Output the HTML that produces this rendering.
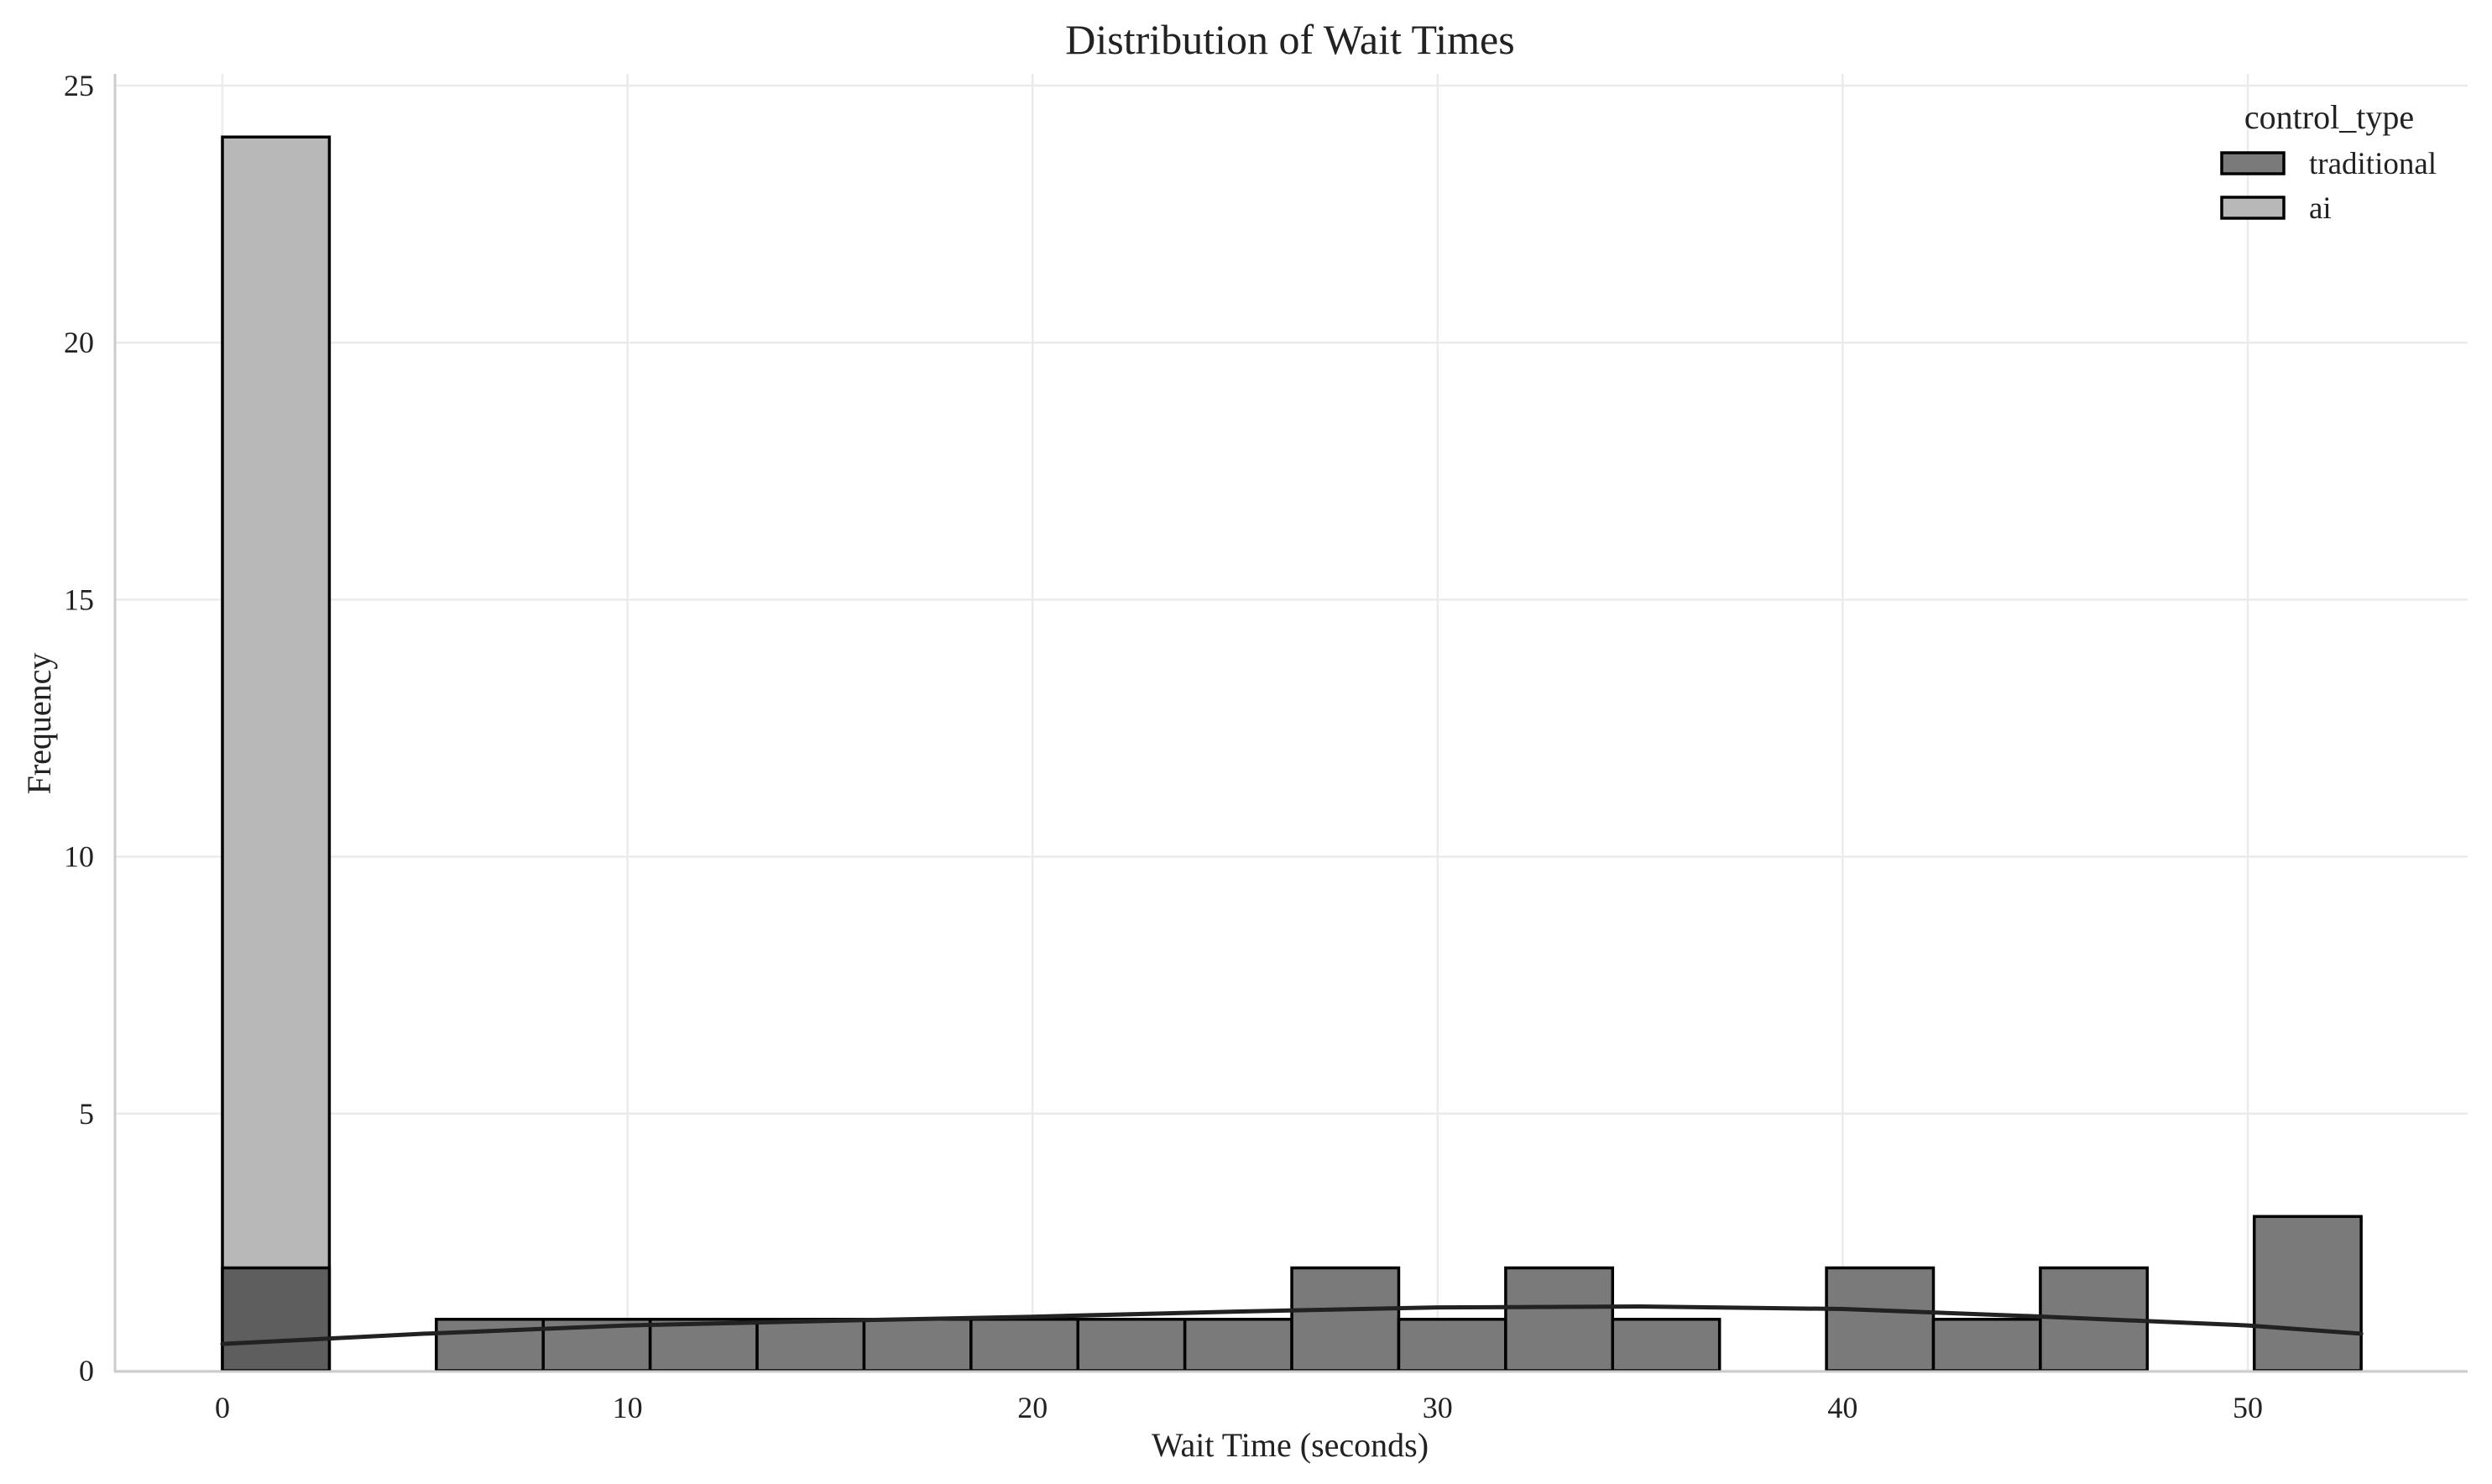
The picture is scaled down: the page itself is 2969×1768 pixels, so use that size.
<!DOCTYPE html>
<html><head><meta charset="utf-8"><style>
html,body{margin:0;padding:0;background:#fff}
svg{display:block;font-family:"Liberation Serif",serif}
</style></head><body>
<svg id="chart" width="2969" height="1768" viewBox="0 0 2969 1768" xmlns="http://www.w3.org/2000/svg">
<text x="1537" y="64" font-size="50" text-anchor="middle" fill="#222">Distribution of Wait Times</text>
<g id="grid"></g>
<g id="bars"></g>
<g id="axes"></g>
<text x="1537" y="1735" font-size="40" text-anchor="middle" fill="#222">Wait Time (seconds)</text>
<text transform="translate(60,862) rotate(-90)" font-size="40" text-anchor="middle" fill="#222">Frequency</text>
<g>
<text x="2775" y="153" font-size="40" text-anchor="middle" fill="#222">control_type</text>
<rect x="2647" y="182" width="74" height="25" fill="#7a7a7a" stroke="#000" stroke-width="3.5"/>
<text x="2751" y="207" font-size="37" fill="#222">traditional</text>
<rect x="2647" y="235" width="74" height="25" fill="#b8b8b8" stroke="#000" stroke-width="3.5"/>
<text x="2751" y="260" font-size="37" fill="#222">ai</text>
</g>
</svg>
<script>
const binStart = 0;
const binWidth = 2.64;
const traditionalCounts = [2,0,1,1,1,1,1,1,1,1,2,1,2,1,0,2,1,2,0,3];
const aiCounts = [24,0,0,0,0,0,0,0,0,0,0,0,0,0,0,0,0,0,0,0];
const kdeX = [0,5,10,15,20,25,30,35,40,45,50,52.8];
const kdeY = [0.52,0.72,0.88,0.97,1.05,1.15,1.23,1.25,1.2,1.05,0.88,0.72];
const xTicks = [0,10,20,30,40,50];
const yTicks = [0,5,10,15,20,25];

const NS = "http://www.w3.org/2000/svg";
const X0 = 265, XS = 48.26;
const Y0 = 1633, YS = (1633 - 102) / 25;
const xs = v => X0 + v * XS;
const ys = v => Y0 - v * YS;
function mk(tag, attrs, parent) {
  const e = document.createElementNS(NS, tag);
  for (const k in attrs) e.setAttribute(k, attrs[k]);
  parent.appendChild(e);
  return e;
}
const gridG = document.getElementById('grid');
const barsG = document.getElementById('bars');
const axesG = document.getElementById('axes');
const plotLeft = 137, plotRight = 2940, plotTop = 88;

xTicks.forEach(t => {
  const l = mk('line', {x1: xs(t), x2: xs(t), y1: plotTop, y2: Y0, stroke: '#ebebeb', 'stroke-width': 2.5}, gridG);
  
  
  const tx = mk('text', {x: xs(t), y: 1689, 'font-size': 36, 'text-anchor': 'middle', fill: '#222'}, axesG);
  tx.textContent = t;
  
  
});
yTicks.forEach(t => {
  const l = mk('line', {x1: plotLeft, x2: plotRight, y1: ys(t), y2: ys(t), stroke: '#ebebeb', 'stroke-width': 2.5}, gridG);
  
  
  const tx = mk('text', {x: 112, y: ys(t) + 12, 'font-size': 36, 'text-anchor': 'end', fill: '#222'}, axesG);
  tx.textContent = t;
  
  
});

function bar(i, v, fill, name) {
  if (v <= 0) return;
  const x1 = xs(binStart + i * binWidth), x2 = xs(binStart + (i + 1) * binWidth);
  const r = mk('rect', {x: x1, y: ys(v), width: x2 - x1, height: ys(0) - ys(v), fill: fill, stroke: '#000', 'stroke-width': 3.5}, barsG);
  
  
}
aiCounts.forEach((v, i) => bar(i, v, '#b8b8b8', 'bar-ai'));
traditionalCounts.forEach((v, i) => bar(i, v, aiCounts[i] > 0 ? '#5e5e5e' : '#7a7a7a', 'bar-traditional'));

const kdePath = kdeX.map((x, i) => (i ? 'L' : 'M') + xs(x) + ',' + ys(kdeY[i])).join(' ');
const kde = mk('path', {d: kdePath, fill: 'none', stroke: '#222', 'stroke-width': 5, 'stroke-linecap': 'round', 'stroke-linejoin': 'round'}, barsG);



const sl = mk('line', {x1: plotLeft, x2: plotLeft, y1: plotTop, y2: Y0 + 2, stroke: '#cccccc', 'stroke-width': 3}, axesG);


const sb = mk('line', {x1: plotLeft - 1, x2: plotRight, y1: Y0 + 1, y2: Y0 + 1, stroke: '#cccccc', 'stroke-width': 3}, axesG);


</script>
</body></html>
